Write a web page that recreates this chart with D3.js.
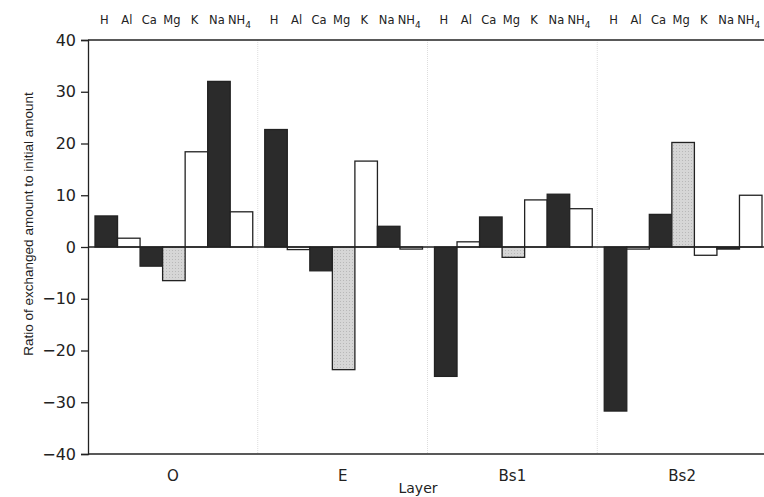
<!DOCTYPE html>
<html>
<head>
<meta charset="utf-8">
<script src="https://cdn.jsdelivr.net/npm/d3@7"></script>
<style>
  body { margin: 0; background: #fff; }
  text { font-family: "DejaVu Sans", sans-serif; fill: #222; }
</style>
</head>
<body>
<script>
// data
layers = ["O", "E", "Bs1", "Bs2"]
ions = ["H", "Al", "Ca", "Mg", "K", "Na", "NH4"]
valO   = [6.0, 1.7, -3.7, -6.5, 18.4, 32.0, 6.8]
valE   = [22.7, -0.5, -4.6, -23.7, 16.6, 4.0, -0.4]
valBs1 = [-25.0, 1.0, 5.8, -2.0, 9.1, 10.2, 7.4]
valBs2 = [-31.7, -0.4, 6.3, 20.2, -1.6, -0.4, 10.0]
yTicks = [-40, -30, -20, -10, 0, 10, 20, 30, 40]

width = 764
height = 497
// plot box (note: "top" is taken by window.top)
var pLeft = 88, pRight = 767, pTop = 40, pBottom = 454

fills = {H: "#2b2b2b", Al: "#fff", Ca: "#2b2b2b", Mg: "url(#stip)", K: "#fff", Na: "#2b2b2b", NH4: "#fff"}

rows = []
var all = [valO, valE, valBs1, valBs2]
layers.forEach(function(l, i) {
    ions.forEach(function(ion, j) {
        rows.push({layer: l, ion: ion, v: all[i][j]})
    })
})

svg = d3.select("body")
    .append("svg")
    .attr("width", width)
    .attr("height", height)

// stippled grey for Mg
var pat = svg.append("defs").append("pattern")
    .attr("id", "stip")
    .attr("width", 3).attr("height", 3)
    .attr("patternUnits", "userSpaceOnUse")
pat.append("rect").attr("width", 3).attr("height", 3).attr("fill", "#d6d6d6")
pat.append("rect").attr("x", 1).attr("y", 1).attr("width", 1).attr("height", 1).attr("fill", "#b8b8b8")

y = d3.scaleLinear().domain([-40, 40]).range([pBottom, pTop])
x0 = d3.scaleBand().domain(layers).range([pLeft, pRight])
x1 = d3.scaleBand().domain(ions).range([7, x0.bandwidth() - 5])

// group dividers
svg.selectAll("line.div")
    .data(layers.slice(1))
    .enter()
    .append("line")
    .attr("x1", function(d) { return x0(d) })
    .attr("x2", function(d) { return x0(d) })
    .attr("y1", pTop).attr("y2", pBottom)
    .attr("stroke", "#ddd")
    .attr("stroke-dasharray", "1,1")

// bars
svg.selectAll("rect.bar")
    .data(rows)
    .enter()
    .append("rect")
    .attr("class", "bar")
    .attr("x", function(d) { return x0(d.layer) + x1(d.ion) })
    .attr("width", x1.bandwidth())
    .attr("y", function(d) { return y(Math.max(0, d.v)) })
    .attr("height", function(d) { return Math.abs(y(d.v) - y(0)) })
    .attr("fill", function(d) { return fills[d.ion] })
    .attr("stroke", "#222")
    .attr("stroke-width", 1.3)

// zero line, top line, bottom line
svg.append("line").attr("x1", pLeft).attr("x2", pRight).attr("y1", y(0)).attr("y2", y(0))
    .attr("stroke", "#222").attr("stroke-width", 1.3)
svg.append("line").attr("x1", pLeft).attr("x2", pRight).attr("y1", pTop).attr("y2", pTop)
    .attr("stroke", "#222").attr("stroke-width", 1.3)
svg.append("line").attr("x1", pLeft).attr("x2", pRight).attr("y1", pBottom).attr("y2", pBottom)
    .attr("stroke", "#222").attr("stroke-width", 1.3)

// y axis
yAxis = svg.append("g")
    .attr("transform", "translate(" + pLeft + ",0)")
    .call(d3.axisLeft(y).tickValues(yTicks).tickSize(7).tickPadding(5)
        .tickFormat(function(d) { return d < 0 ? "\u2212" + (-d) : d }))
yAxis.selectAll("path, line").attr("stroke", "#222").attr("stroke-width", 1.3)
yAxis.selectAll("text").attr("font-size", 16).style("font-family", "DejaVu Sans").attr("fill", "#222")

// ion labels on top of every group
layers.forEach(function(l) {
    var t = svg.selectAll("text.ion" + l)
        .data(ions)
        .enter()
        .append("text")
        .attr("x", function(d) { return x0(l) + x1(d) + x1.bandwidth() / 2 - 2 })
        .attr("y", 24)
        .attr("text-anchor", "middle")
        .attr("font-size", 11.5)
    t.each(function(d) {
        var el = d3.select(this)
        if (d == "NH4") {
            el.append("tspan").text("NH")
            el.append("tspan").attr("font-size", 9).attr("dy", 4).text("4")
        } else {
            el.text(d)
        }
    })
})

// layer labels
svg.selectAll("text.layer")
    .data(layers)
    .enter()
    .append("text")
    .attr("x", function(d) { return x0(d) + x0.bandwidth() / 2 })
    .attr("y", 481)
    .attr("text-anchor", "middle")
    .attr("font-size", 15)
    .text(function(d) { return d })

svg.append("text")
    .attr("x", 418).attr("y", 493)
    .attr("text-anchor", "middle")
    .attr("font-size", 14)
    .text("Layer")

svg.append("text")
    .attr("transform", "translate(33,224) rotate(-90)")
    .attr("text-anchor", "middle")
    .attr("font-size", 13.5)
    .style("font-family", "Liberation Sans, sans-serif")
    .text("Ratio of exchanged amount to initial amount")
</script>
</body>
</html>
